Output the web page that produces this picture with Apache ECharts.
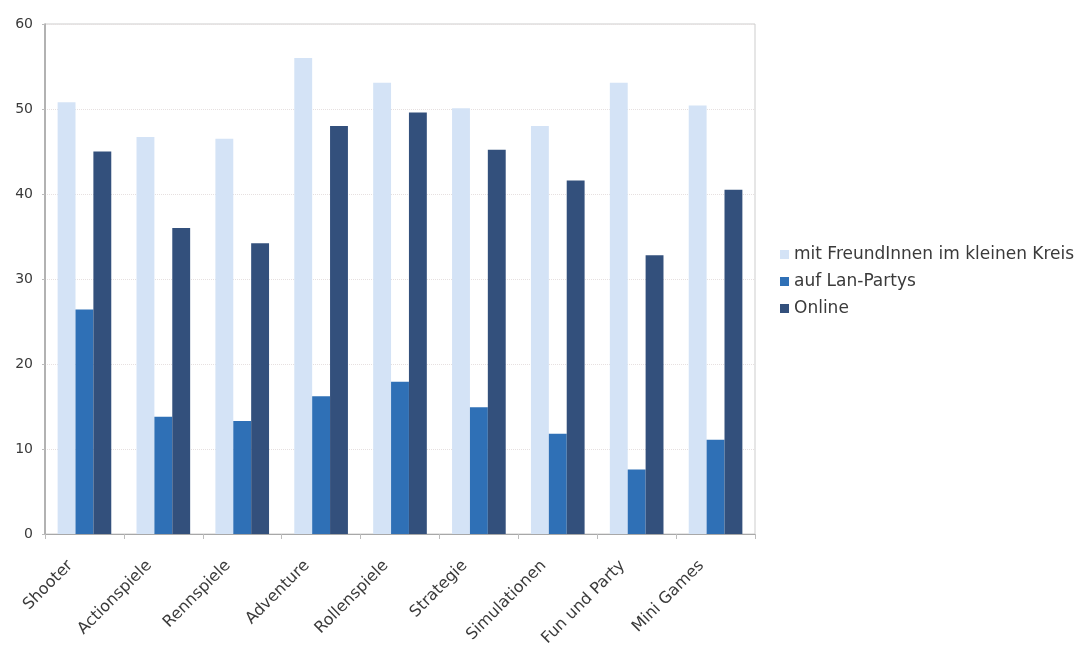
<!DOCTYPE html>
<html>
<head>
<meta charset="utf-8">
<script src="https://cdn.jsdelivr.net/npm/echarts@6/dist/echarts.min.js"></script>
<style>
  html, body { margin: 0; padding: 0; background: #ffffff; }
  #chart { width: 1088px; height: 649px; }
</style>
</head>
<body>
<div id="chart"></div>
<script>
// Genres shown along the x axis
const categories = ['Shooter', 'Actionspiele', 'Rennspiele', 'Adventure', 'Rollenspiele',
  'Strategie', 'Simulationen', 'Fun und Party', 'Mini Games'];

// Share per genre (percent) for each playing context
const freunde = [50.8, 46.7, 46.5, 56.0, 53.1, 50.1, 48.0, 53.1, 50.4];
const lanPartys = [26.4, 13.8, 13.3, 16.2, 17.9, 14.9, 11.8, 7.6, 11.1];
const online = [45.0, 36.0, 34.2, 48.0, 49.6, 45.2, 41.6, 32.8, 40.5];

const seriesNames = ['mit FreundInnen im kleinen Kreis', 'auf Lan-Partys', 'Online'];
const colors = ['#d4e3f6', '#2f70b6', '#33507c'];

const chart = echarts.init(document.getElementById('chart'));

const font = 'DejaVu Sans, Verdana, sans-serif';

chart.setOption({
  animation: false,
  backgroundColor: '#ffffff',
  color: colors,
  grid: { left: 45, right: 333, top: 24, bottom: 115, show: true, borderColor: '#cdcdcd', borderWidth: 1 },
  legend: {
    orient: 'vertical',
    left: 775,
    top: 241,
    itemWidth: 9,
    itemHeight: 9,
    itemGap: 10,
    icon: 'rect',
    textStyle: { fontFamily: font, fontSize: 17, color: '#3a3a3a' },
    data: seriesNames
  },
  xAxis: {
    type: 'category',
    data: categories,
    axisLine: { lineStyle: { color: '#a8a8a8' } },
    axisTick: { show: true, alignWithLabel: false, length: 5, lineStyle: { color: '#bcbcbc' } },
    axisLabel: {
      rotate: 45,
      interval: 0,
      margin: 15,
      padding: [0, 20, 0, 0],
      fontFamily: font,
      fontSize: 16,
      color: '#3a3a3a'
    }
  },
  yAxis: {
    type: 'value',
    min: 0,
    max: 60,
    interval: 10,
    axisLine: { show: true, lineStyle: { color: '#a0a0a0', width: 1.5 } },
    axisTick: { show: true, length: 3, lineStyle: { color: '#bcbcbc' } },
    axisLabel: { fontFamily: font, fontSize: 14, color: '#3a3a3a', margin: 12 },
    splitLine: { show: true, lineStyle: { color: '#e6e0e0', type: 'dotted' } }
  },
  series: [
    { name: seriesNames[0], type: 'bar', data: freunde, barGap: '0%', barCategoryGap: '32%' },
    { name: seriesNames[1], type: 'bar', data: lanPartys, barGap: '0%', barCategoryGap: '32%' },
    { name: seriesNames[2], type: 'bar', data: online, barGap: '0%', barCategoryGap: '32%' }
  ]
});
</script>
</body>
</html>
